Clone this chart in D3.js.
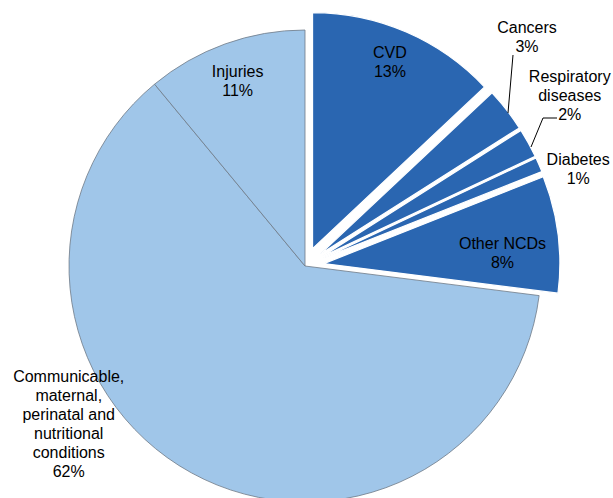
<!DOCTYPE html>
<html>
<head>
<meta charset="utf-8">
<script src="https://cdn.jsdelivr.net/npm/d3@7/dist/d3.min.js"></script>
<style>
  html, body { margin: 0; padding: 0; background: #fff; }
  svg { display: block; }
  text { font-family: "Liberation Sans", Arial, sans-serif; font-size: 16px; fill: #000; }
</style>
</head>
<body>
<script>
// ---- data ----
const categories = ["CVD", "Cancers", "Respiratory diseases", "Diabetes", "Other NCDs",
                    "Communicable, maternal, perinatal and nutritional conditions", "Injuries"];
const values = [13, 3, 2, 1, 8, 62, 11];
const groups = ["NCD", "NCD", "NCD", "NCD", "NCD", "Other", "Other"];
const labelLines = [
  ["CVD", "13%"],
  ["Cancers", "3%"],
  ["Respiratory", "diseases", "2%"],
  ["Diabetes", "1%"],
  ["Other NCDs", "8%"],
  ["Communicable,", "maternal,", "perinatal and", "nutritional", "conditions", "62%"],
  ["Injuries", "11%"]
];

// ---- layout ----
const W = 613, H = 498;
const cx = 305, cy = 266, R = 236, explode = 19;
const colors = { NCD: "#2a66b1", Other: "#a0c6e9" };
// label anchor (polar: angle in degrees clockwise from 12 o'clock, radius) relative to pie centre
const labelPolar = [
  { a: 22.6, r: 221 },
  { a: 44.1, r: 319 },
  { a: 57.2, r: 315 },
  { a: 70.4, r: 290 },
  { a: 86.0, r: 198 },
  { a: 236.3, r: 284 },
  { a: -20.0, r: 197 }
];
const lineH = 19;

const svg = d3.select("body").append("svg").attr("width", W).attr("height", H);
const g = svg.append("g").attr("transform", `translate(${cx},${cy})`);

const pie = d3.pie().sort(null).value(d => d).startAngle(0).endAngle(2 * Math.PI);
const arcs = pie(values);
const arc = d3.arc().innerRadius(0).outerRadius(R);

function offset(d, i) {
  if (groups[i] !== "NCD") return [0, 0];
  const m = (d.startAngle + d.endAngle) / 2;
  return [explode * Math.sin(m), -explode * Math.cos(m)];
}

g.selectAll("path.slice")
  .data(arcs)
  .join("path")
  .attr("class", "slice")
  .attr("d", arc)
  .attr("transform", (d, i) => { const o = offset(d, i); return `translate(${o[0]},${o[1]})`; })
  .attr("fill", (d, i) => colors[groups[i]])
  .attr("stroke", (d, i) => groups[i] === "NCD" ? "#ffffff" : "#6f7a86")
  .attr("stroke-width", (d, i) => groups[i] === "NCD" ? 1.2 : 0.8)
  .attr("stroke-linejoin", "round");

// leader lines
const leaders = [
  [[513, 55], [508, 113]],
  [[557, 118], [543, 118], [531, 147]]
];
svg.selectAll("path.leader")
  .data(leaders)
  .join("path")
  .attr("class", "leader")
  .attr("d", d3.line())
  .attr("fill", "none")
  .attr("stroke", "#000")
  .attr("stroke-width", 1);

// labels
const lab = g.selectAll("text.lab")
  .data(arcs)
  .join("text")
  .attr("class", "lab")
  .attr("text-anchor", "middle")
  .attr("transform", (d, i) => {
    const p = labelPolar[i];
    const a = p.a * Math.PI / 180;
    const x = p.r * Math.sin(a), y = -p.r * Math.cos(a);
    const n = labelLines[i].length;
    return `translate(${x},${y - (n - 1) * lineH / 2 + 6})`;
  });
lab.selectAll("tspan")
  .data((d, i) => labelLines[i])
  .join("tspan")
  .attr("x", 0)
  .attr("dy", (t, j) => j === 0 ? 0 : lineH)
  .text(t => t);
</script>
</body>
</html>
